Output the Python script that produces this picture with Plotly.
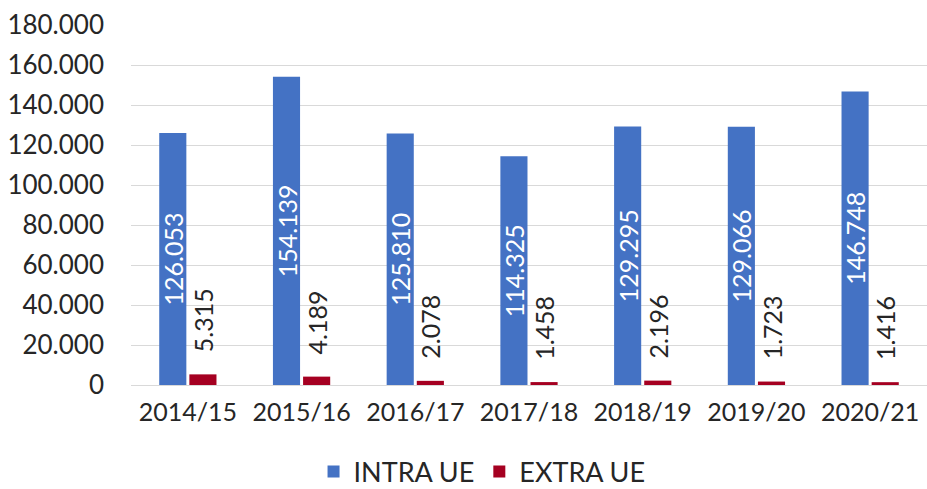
import plotly.graph_objects as go

# Seasons and trade volumes
seasons = ["2014/15", "2015/16", "2016/17", "2017/18", "2018/19", "2019/20", "2020/21"]
intra_ue = [126053, 154139, 125810, 114325, 129295, 129066, 146748]
extra_ue = [5315, 4189, 2078, 1458, 2196, 1723, 1416]

y_ticks = list(range(0, 180001, 20000))

FONT = "Lato, 'Open Sans', sans-serif"
TEXT_COLOR = "#262626"
FS = 25

fig = go.Figure()
fig.add_trace(go.Bar(
    name="INTRA UE", x=seasons, y=intra_ue,
    marker=dict(color="#4472C4", line=dict(width=0)),
    texttemplate="%{y:,d}", textposition="inside", insidetextanchor="middle",
    textangle=-90, constraintext="none",
    insidetextfont=dict(color="white", size=FS, family=FONT),
))
fig.add_trace(go.Bar(
    name="EXTRA UE", x=seasons, y=extra_ue,
    marker=dict(color="#A50021", line=dict(width=0)),
    texttemplate="\u00a0\u00a0\u00a0%{y:,d}", textposition="outside",
    textangle=-90, constraintext="none", cliponaxis=False,
    outsidetextfont=dict(color=TEXT_COLOR, size=FS, family=FONT),
))

fig.update_layout(
    width=927, height=489,
    margin=dict(l=131, r=0, t=25, b=104, autoexpand=False),
    paper_bgcolor="white", plot_bgcolor="white",
    separators=",.",
    barmode="group", bargap=0.47, bargroupgap=0.1,
    font=dict(family=FONT, size=FS, color=TEXT_COLOR),
    uniformtext=dict(minsize=FS, mode="show"),
    showlegend=True,
    legend=dict(orientation="h", xref="container", x=0.52, xanchor="center",
                yref="container", y=0.035, yanchor="middle",
                font=dict(size=FS + 2, color=TEXT_COLOR, family=FONT),
                itemwidth=30, traceorder="normal"),
)
fig.update_xaxes(showgrid=False, showline=False, ticks="", tickfont=dict(size=FS),
                 ticklabelstandoff=10)
fig.update_yaxes(range=[0, 180000], tickvals=y_ticks, tickformat=",d",
                 showgrid=True, gridcolor="#d9d9d9", gridwidth=1,
                 zeroline=True, zerolinecolor="#d9d9d9", zerolinewidth=1,
                 showline=False, ticks="", tickfont=dict(size=FS + 1),
                 ticklabelstandoff=26)

fig.write_html("out.html")
